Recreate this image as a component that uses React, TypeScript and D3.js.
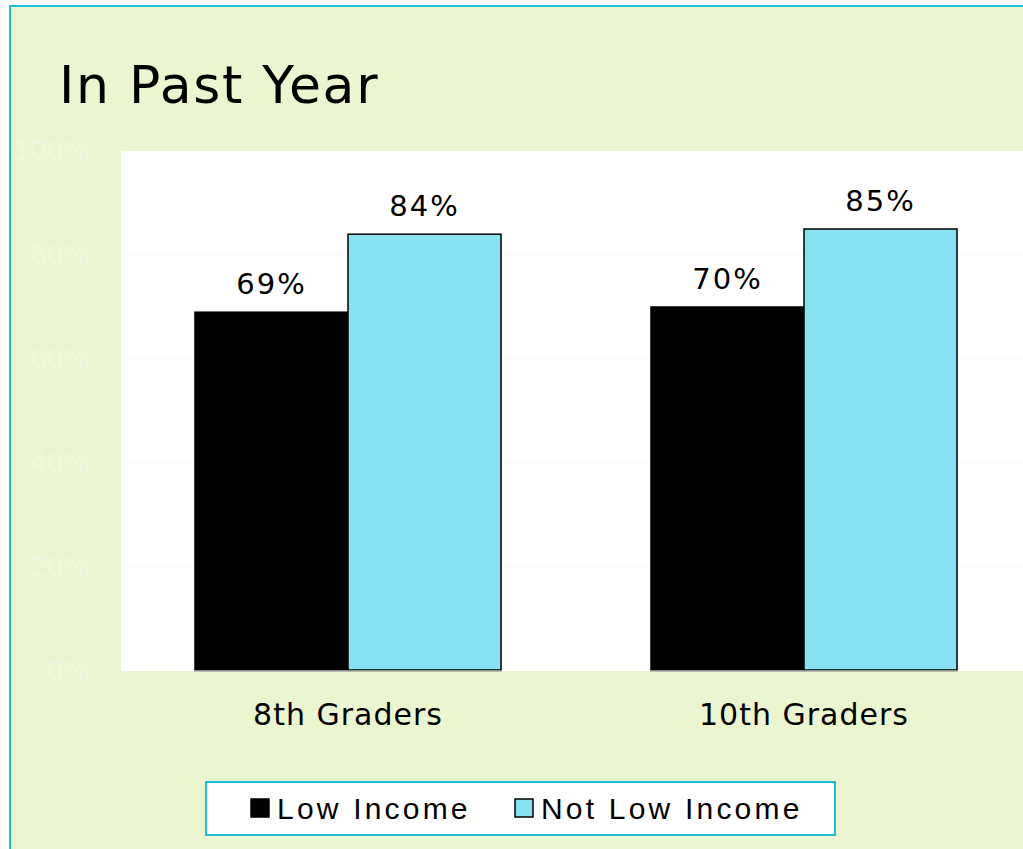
import React from "react";
import * as d3 from "d3";

const categories = ["8th Graders", "10th Graders"];
const seriesNames = ["Low Income", "Not Low Income"];
const lowIncome = [69, 70];
const notLowIncome = [84, 85];
const yTicks = [0, 20, 40, 60, 80, 100];

const colors = ["#000000", "#87E3F3"];

const W = 1023;
const H = 849;

export default function App() {
  const plot = { left: 121, top: 151, right: 1032, bottom: 671 };

  const x0 = d3
    .scaleBand<string>()
    .domain(categories)
    .range([plot.left - 1, plot.right])
    .paddingInner(0)
    .paddingOuter(0);

  const x1 = d3
    .scaleBand<string>()
    .domain(seriesNames)
    .range([0, x0.bandwidth()])
    .paddingInner(0)
    .paddingOuter(0.49);

  const y = d3.scaleLinear().domain([0, 100]).range([plot.bottom, plot.top]);

  const values = [lowIncome, notLowIncome];

  const dejavu = "'DejaVu Sans', Verdana, sans-serif";
  const arial = "'Liberation Sans', Arial, sans-serif";

  return (
    <svg
      width={W}
      height={H}
      style={{ position: "absolute", left: 0, top: 0, display: "block" }}
    >
      <rect x={0} y={0} width={W} height={H} fill="#ffffff" />
      {/* outer frame */}
      <rect
        x={10}
        y={6}
        width={W + 20}
        height={H + 20}
        fill="#EBF6D0"
        stroke="#20BCD8"
        strokeWidth={2}
      />

      <text
        x={59}
        y={103}
        fontFamily={dejavu}
        fontSize={52}
        letterSpacing={1.7}
        fill="#000"
      >
        In Past Year
      </text>

      {/* plot area */}
      <rect
        x={plot.left}
        y={plot.top}
        width={plot.right - plot.left}
        height={plot.bottom - plot.top}
        fill="#ffffff"
      />

      {/* gridlines */}
      {yTicks
        .filter((t) => t > 0 && t < 100)
        .map((t) => (
          <line
            key={t}
            x1={plot.left}
            x2={plot.right}
            y1={y(t)}
            y2={y(t)}
            stroke="#FAFCF3"
            strokeWidth={1}
          />
        ))}

      {/* y axis labels (very faint) */}
      {yTicks.map((t) => (
        <text
          key={t}
          x={90}
          y={y(t) + 1}
          textAnchor="end"
          dominantBaseline="middle"
          fontFamily={arial}
          fontSize={30}
          fill="#EFF7DD"
        >
          {t}%
        </text>
      ))}

      {/* bars */}
      {categories.map((c, ci) => (
        <g key={c} transform={`translate(${x0(c)},0)`}>
          {seriesNames.map((s, si) => {
            const v = values[si][ci];
            const bx = x1(s)!;
            const bw = x1.bandwidth();
            return (
              <g key={s}>
                <rect
                  x={bx}
                  y={y(v)}
                  width={bw}
                  height={y(0) - y(v) - 1}
                  fill={colors[si]}
                  stroke="#000"
                  strokeWidth={1.5}
                />
                <line
                  x1={bx - 1}
                  x2={bx + bw + 1}
                  y1={y(0)}
                  y2={y(0)}
                  stroke="#A8A8A8"
                  strokeWidth={1.5}
                />
                <text
                  x={bx + bw / 2}
                  y={y(v) - 18}
                  textAnchor="middle"
                  fontFamily={dejavu}
                  fontSize={29}
                  letterSpacing={2}
                  fill="#000"
                >
                  {v}%
                </text>
              </g>
            );
          })}
          <text
            x={x0.bandwidth() / 2}
            y={725}
            textAnchor="middle"
            fontFamily={dejavu}
            fontSize={30}
            letterSpacing={1}
            fill="#000"
          >
            {c}
          </text>
        </g>
      ))}

      {/* legend */}
      <rect
        x={206}
        y={782}
        width={629}
        height={53}
        fill="#ffffff"
        stroke="#20BCD8"
        strokeWidth={2}
      />
      {seriesNames.map((s, i) => {
        const lx = [251, 515][i];
        return (
          <g key={s}>
            <rect
              x={lx}
              y={799}
              width={18}
              height={18}
              fill={colors[i]}
              stroke="#000"
              strokeWidth={1.5}
            />
            <text
              x={lx + 26}
              y={819}
              fontFamily={arial}
              fontSize={30}
              letterSpacing={3.2}
              fill="#000"
            >
              {s}
            </text>
          </g>
        );
      })}
    </svg>
  );
}
